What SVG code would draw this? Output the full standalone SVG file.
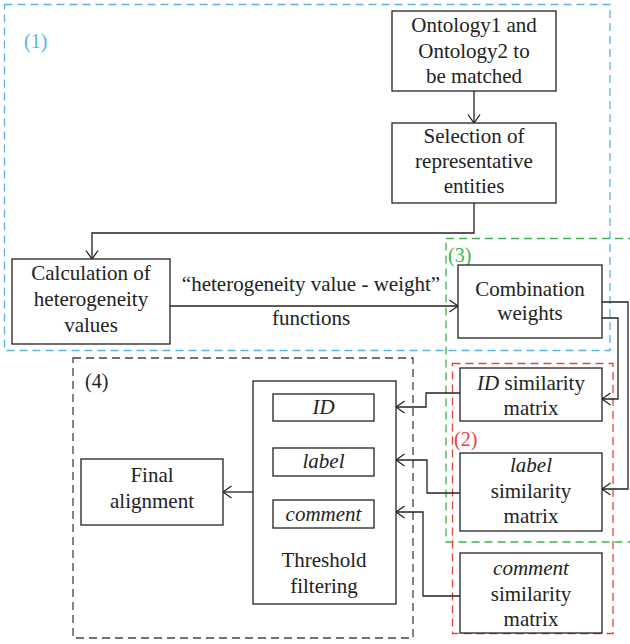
<svg xmlns="http://www.w3.org/2000/svg" width="630" height="644" viewBox="0 0 630 644">
<defs>
<style>
.box{fill:#fff;stroke:#222;stroke-width:1.3}
.t{font-family:"Liberation Serif","Times New Roman",serif;font-size:21px;fill:#222;text-anchor:middle}
.i{font-style:italic}
.c{fill:none;stroke:#222;stroke-width:1.3}
.d{fill:none;stroke-width:1.3;stroke-dasharray:8,5}
.lab{font-family:"Liberation Serif","Times New Roman",serif;font-size:20px}
</style>
<marker id="a" viewBox="0 0 10 14" refX="9.5" refY="7" markerWidth="10" markerHeight="14" markerUnits="userSpaceOnUse" orient="auto">
<path d="M1,1 L9.5,7 L1,13" fill="none" stroke="#222" stroke-width="1.3"/>
</marker>
</defs>
<rect width="630" height="644" fill="#fff"/>

<g id="regions">
<rect class="d" x="4.5" y="4.5" width="605.5" height="346" stroke="#5ab4e0"/>
<text class="lab" x="24" y="48" fill="#5ab4e0">(1)</text>
<rect class="d" x="446" y="238.5" width="190" height="303.5" stroke="#3cb54a"/>
<text class="lab" x="448" y="262" fill="#3cb54a">(3)</text>
<rect class="d" x="452.5" y="363.5" width="160.5" height="270" stroke="#e4453a"/>
<text class="lab" x="454" y="446" fill="#e4453a">(2)</text>
<rect class="d" x="73" y="358" width="340" height="280" stroke="#444"/>
<text class="lab" x="85" y="388" fill="#222">(4)</text>
</g>

<g id="connectors">
<path class="c" d="M474,91 V123" marker-end="url(#a)"/>
<path class="c" d="M474,203 V233 H92 V259" marker-end="url(#a)"/>
<path class="c" d="M170,306 H458" marker-end="url(#a)"/>
<text class="t" x="311" y="291">“heterogeneity value - weight”</text>
<text class="t" x="311" y="325">functions</text>
<path class="c" d="M602,302 H628 V489 H602" marker-end="url(#a)"/>
<path class="c" d="M602,318 H618 V399 H602" marker-end="url(#a)"/>
<path class="c" d="M460,393 H426 V407 H396" marker-end="url(#a)"/>
<path class="c" d="M460,493 H427 V460 H396" marker-end="url(#a)"/>
<path class="c" d="M460,596 H423 V512 H396" marker-end="url(#a)"/>
<path class="c" d="M253,492 H223" marker-end="url(#a)"/>
</g>

<g id="ontology">
<rect class="box" x="392" y="11" width="164" height="80"/>
<text class="t" x="474" y="32">Ontology1 and</text>
<text class="t" x="474" y="58">Ontology2 to</text>
<text class="t" x="474" y="83">be matched</text>
</g>
<g id="selection">
<rect class="box" x="392" y="123" width="164" height="80"/>
<text class="t" x="474" y="143">Selection of</text>
<text class="t" x="474" y="168">representative</text>
<text class="t" x="474" y="193">entities</text>
</g>
<g id="calculation">
<rect class="box" x="12" y="259" width="158" height="85"/>
<text class="t" x="91" y="280">Calculation of</text>
<text class="t" x="91" y="306">heterogeneity</text>
<text class="t" x="91" y="332">values</text>
</g>
<g id="combination">
<rect class="box" x="458" y="265" width="144" height="73"/>
<text class="t" x="530" y="296">Combination</text>
<text class="t" x="530" y="320">weights</text>
</g>
<g id="id-sim">
<rect class="box" x="460" y="368" width="142" height="53"/>
<text class="t" x="531" y="390"><tspan class="i">ID</tspan> similarity</text>
<text class="t" x="531" y="415">matrix</text>
</g>
<g id="label-sim">
<rect class="box" x="460" y="453" width="142" height="78"/>
<text class="t i" x="531" y="472">label</text>
<text class="t" x="531" y="498">similarity</text>
<text class="t" x="531" y="523">matrix</text>
</g>
<g id="comment-sim">
<rect class="box" x="460" y="553" width="142" height="80"/>
<text class="t i" x="531" y="575">comment</text>
<text class="t" x="531" y="601">similarity</text>
<text class="t" x="531" y="626">matrix</text>
</g>
<g id="threshold">
<rect class="box" x="253" y="381" width="143" height="223"/>
<rect class="box" x="273" y="394" width="101" height="27"/>
<text class="t i" x="323.5" y="414">ID</text>
<rect class="box" x="273" y="448" width="101" height="28"/>
<text class="t i" x="323.5" y="468">label</text>
<rect class="box" x="273" y="500" width="101" height="28"/>
<text class="t i" x="323.5" y="521">comment</text>
<text class="t" x="324" y="567">Threshold</text>
<text class="t" x="324" y="593">filtering</text>
</g>
<g id="final">
<rect class="box" x="81" y="459" width="142" height="66"/>
<text class="t" x="152" y="482">Final</text>
<text class="t" x="152" y="508">alignment</text>
</g>
</svg>
